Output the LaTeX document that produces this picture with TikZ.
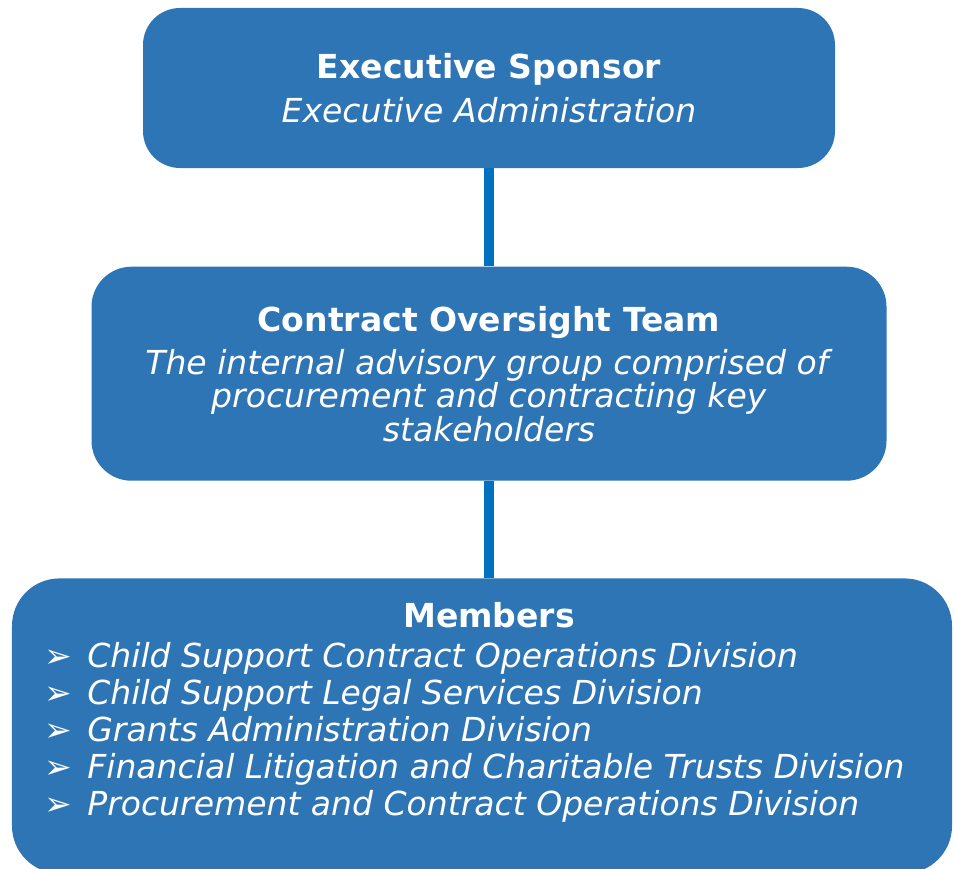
\documentclass[tikz,border=0pt]{standalone}
\usepackage{fontspec}
\setmainfont{DejaVu Sans}
\usepackage{tikz}
\usetikzlibrary{positioning}
\definecolor{boxblue}{HTML}{2E75B6}
\definecolor{lineblue}{HTML}{0070C0}
\tikzstyle{orgbox} = [
    fill=boxblue,
    text=white,
    align=center,
    inner sep=0pt,
    font=\fontsize{18.8pt}{18.8pt}\selectfont
]
\tikzstyle{orglink} = [draw=lineblue, line width=0.2cm]
\newcommand{\memberline}[1]{\makebox[0.86cm][l]{➢}\textit{#1}}

\begin{document}
\begin{tikzpicture}
\useasboundingbox (0,0) rectangle (19.08,-17.38);

\node [orgbox,
    rounded corners=0.74cm,
    minimum width=13.84cm,
    minimum height=3.2cm
] (sponsor) at (9.78,-1.76) {\textbf{Executive Sponsor}\\[6.2pt]
    \textit{Executive Administration}};

\node [orgbox,
    rounded corners=0.8cm,
    minimum width=15.9cm,
    minimum height=4.28cm,
    below=1.96cm of sponsor
] (oversight) {\textbf{Contract Oversight Team}\\[6.2pt]
    \textit{The internal advisory group comprised of}\\
    \textit{procurement and contracting key}\\
    \textit{stakeholders}};

\node [orgbox,
    rounded corners=0.95cm,
    minimum width=18.8cm,
    minimum height=5.9cm,
    below=1.94cm of oversight,
    xshift=-0.14cm
] (members) {};

% text inside the members box
\node [text=white, inner sep=0pt, anchor=base,
    font=\fontsize{18.8pt}{18.8pt}\selectfont\bfseries
] (memberstitle) at (9.78,-12.54) {Members};

\node [text=white, inner sep=0pt, anchor=north west, align=left,
    font=\fontsize{18.8pt}{21pt}\selectfont
] (memberlist) at (0.88,-12.85) {\memberline{Child Support Contract Operations Division}\\
    \memberline{Child Support Legal Services Division}\\
    \memberline{Grants Administration Division}\\
    \memberline{Financial Litigation and Charitable Trusts Division}\\
    \memberline{Procurement and Contract Operations Division}};

\draw[orglink] (sponsor.south) -- (oversight.north);
\draw[orglink] (oversight.south) -- (members.north -| oversight.south);

\end{tikzpicture}
\end{document}
